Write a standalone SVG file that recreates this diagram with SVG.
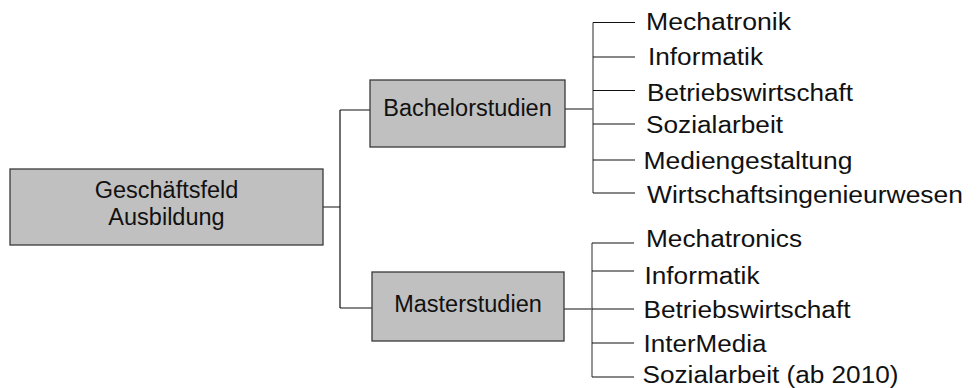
<svg xmlns="http://www.w3.org/2000/svg" width="978" height="388" viewBox="0 0 978 388">
<style>
.box{fill:#c0c0c0;stroke:#3a3a3a;stroke-width:1.3}
.bt{font-family:"Liberation Sans",Arial,sans-serif;font-size:23.5px;fill:#111;text-anchor:middle}
.lt{font-family:"Liberation Sans",Arial,sans-serif;font-size:23px;fill:#111}
.c{stroke:#111;stroke-width:1.2;fill:none}
.v{stroke:#666;stroke-width:1.4;fill:none}
</style>
<rect width="978" height="388" fill="#fff"/>
<g id="connectors">
<path class="c" d="M323 207H340M340 110V308M340 110H370M340 308H372"/>
<path class="c" d="M565 109H593M564 309H592"/>
<path class="v" d="M593 22.5V193M592 243V377"/>
<path class="c" d="M593 22.5H635M593 57H635M593 90.5H635M593 124H635M593 160H635M593 193H635"/>
<path class="c" d="M592 243H634M592 271H634M592 309H634M592 343H634M592 377H634"/>
</g>
<g id="n-main"><rect class="box" x="10" y="169" width="313" height="76"/><text class="bt" x="166.5" y="198">Geschäftsfeld</text><text class="bt" x="166.5" y="225">Ausbildung</text></g>
<g id="n-bachelor"><rect class="box" x="370" y="80" width="195" height="67"/><text class="bt" x="467.5" y="116">Bachelorstudien</text></g>
<g id="n-master"><rect class="box" x="372" y="272" width="192" height="69"/><text class="bt" x="468" y="312">Masterstudien</text></g>
<g id="n-b1"><text class="lt" x="646" y="30" textLength="145" lengthAdjust="spacingAndGlyphs">Mechatronik</text></g>
<g id="n-b2"><text class="lt" x="648" y="64.5" textLength="115" lengthAdjust="spacingAndGlyphs">Informatik</text></g>
<g id="n-b3"><text class="lt" x="647" y="100.5" textLength="206" lengthAdjust="spacingAndGlyphs">Betriebswirtschaft</text></g>
<g id="n-b4"><text class="lt" x="646" y="133" textLength="137" lengthAdjust="spacingAndGlyphs">Sozialarbeit</text></g>
<g id="n-b5"><text class="lt" x="643.5" y="168.5" textLength="209" lengthAdjust="spacingAndGlyphs">Mediengestaltung</text></g>
<g id="n-b6"><text class="lt" x="647" y="203" textLength="316" lengthAdjust="spacingAndGlyphs">Wirtschaftsingenieurwesen</text></g>
<g id="n-m1"><text class="lt" x="646" y="247" textLength="156" lengthAdjust="spacingAndGlyphs">Mechatronics</text></g>
<g id="n-m2"><text class="lt" x="644.5" y="284" textLength="115" lengthAdjust="spacingAndGlyphs">Informatik</text></g>
<g id="n-m3"><text class="lt" x="643.5" y="318" textLength="207" lengthAdjust="spacingAndGlyphs">Betriebswirtschaft</text></g>
<g id="n-m4"><text class="lt" x="643.5" y="352" textLength="123" lengthAdjust="spacingAndGlyphs">InterMedia</text></g>
<g id="n-m5"><text class="lt" x="642.5" y="382.5" textLength="256" lengthAdjust="spacingAndGlyphs">Sozialarbeit (ab 2010)</text></g>
</svg>
